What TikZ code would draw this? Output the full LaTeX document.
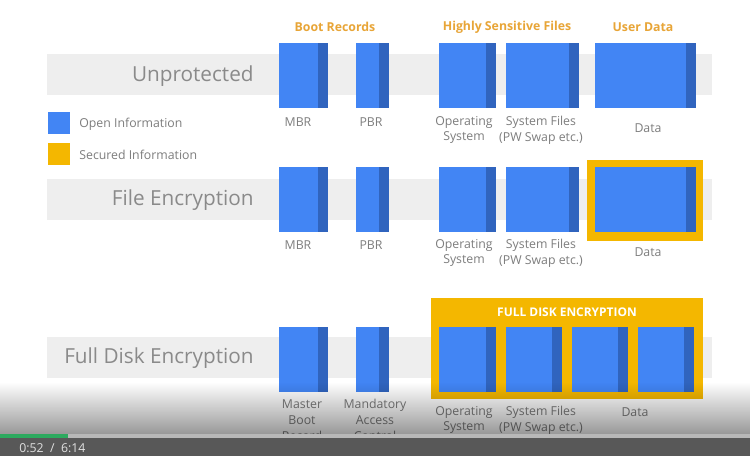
\documentclass[tikz,border=0pt]{standalone}
\usepackage{fontspec}
\setmainfont{Open Sans}
\usetikzlibrary{fadings}
\definecolor{gblue}{RGB}{66,133,244}
\definecolor{gbluedark}{RGB}{48,100,190}
\definecolor{ggold}{RGB}{244,183,0}
\definecolor{headgold}{RGB}{232,165,55}
\definecolor{bandgray}{RGB}{238,238,238}
\definecolor{labelgray}{RGB}{125,125,125}
\definecolor{titlegray}{RGB}{138,138,138}
\definecolor{barbase}{RGB}{88,88,88}
\definecolor{bargreen}{RGB}{45,170,95}

\begin{document}
\begin{tikzpicture}[x=0.02cm, y=-0.02cm, font=\fontsize{7}{9}\selectfont,
  lbl/.style={labelgray, align=center, inner sep=0pt, font=\fontsize{7}{9}\selectfont},
  head/.style={headgold, inner sep=0pt, font=\bfseries\fontsize{7}{9}\selectfont},
  rowtitle/.style={titlegray, anchor=east, inner sep=0pt, font=\fontsize{11.8}{14}\selectfont}]
  \useasboundingbox (0,0) rectangle (750,456);
  \clip (0,0) rectangle (750,456);
  \fill[white] (0,0) rectangle (750,456);

  \foreach \ya in {54, 179, 337}{
    \fill[bandgray] (47,\ya) rectangle (712,\ya+41);
  }

  \node[head] (hdrboot) at (335,27) {Boot Records};
  \node[head] (hdrsens) at (507,27) {Highly Sensitive Files};
  \node[head] (hdruser) at (643,27) {User Data};

  \node[rowtitle] (unprot) at (254,76) {Unprotected};
  \node[rowtitle] (fileenc) at (254,200) {File Encryption};
  \node[rowtitle] (fulldisk) at (254,358) {Full Disk Encryption};

  \fill[gblue] (48,112) rectangle (70,134);
  \fill[ggold] (48,143) rectangle (70,165);
  \node[lbl, anchor=west] (openinfo) at (79,124) {Open Information};
  \node[lbl, anchor=west] (secinfo) at (79,155) {Secured Information};

  \fill[ggold] (587,160) rectangle (703,241);
  \fill[ggold] (431,298) rectangle (703,399);
  \node[white, inner sep=0pt, font=\bfseries\fontsize{6.8}{8}\selectfont] (fdetitle) at (567,312) {FULL DISK ENCRYPTION};

  \foreach \xa/\xb/\ya in {279/328/43, 356/389/43, 439/496/43, 506/579/43, 595/696/43,
                           279/328/167, 356/389/167, 439/496/167, 506/579/167, 595/696/167,
                           279/328/327, 356/389/327, 439/496/327, 506/562/327, 572/628/327, 638/694/327}{
    \fill[gblue] (\xa,\ya) rectangle (\xb,\ya+65);
    \fill[gbluedark] (\xb-10,\ya) rectangle (\xb,\ya+65);
  }

  \foreach \nm/\x/\y/\txt in {mbra/298/122/MBR, pbra/371/122/PBR,
                              osa/464/130/{Operating\\System}, sysa/541/130/{System Files\\(PW Swap etc.)},
                              dataa/648/128/Data,
                              mbrb/298/245/MBR, pbrb/371/245/PBR,
                              osb/464/253/{Operating\\System}, sysb/541/253/{System Files\\(PW Swap etc.)},
                              datab/648/252/Data,
                              mbrc/302/420/{Master\\Boot\\Record}, macc/375/420/{Mandatory\\Access\\Control},
                              osc/464/420/{Operating\\System}, sysc/541/420/{System Files\\(PW Swap etc.)},
                              datac/635/412/Data}{
    \node[lbl] (\nm) at (\x,\y) {\txt};
  }

  \fill[black, opacity=0.42, path fading=north] (0,382) rectangle (750,436);
  \fill[barbase] (0,436) rectangle (750,456);
  \fill[black!28] (0,434) rectangle (750,438);
  \fill[bargreen] (0,434) rectangle (68,438);
  \node[anchor=west, inner sep=0pt, black!12, font=\fontsize{7}{9}\selectfont] (clock) at (19,448) {0:52~~/~~6:14};
\end{tikzpicture}
\end{document}
